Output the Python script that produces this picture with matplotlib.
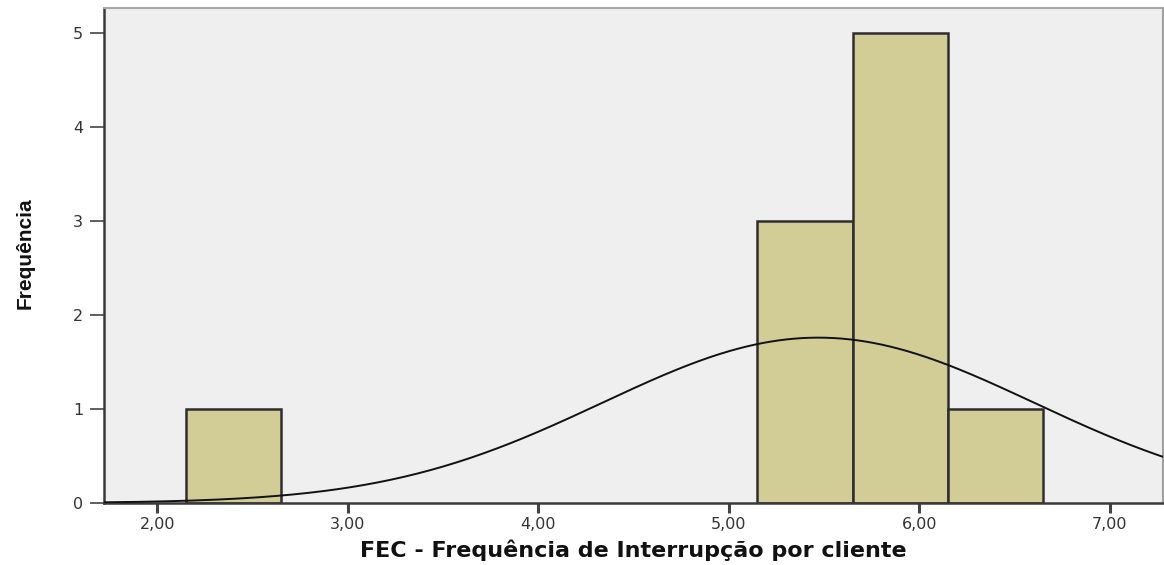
import numpy as np
import matplotlib
matplotlib.use("Agg")
import matplotlib.pyplot as plt

# histogram bins (left edges), counts and fitted normal parameters
bin_left = [2.15, 5.15, 5.65, 6.15]
bin_width = 0.5
counts = [1, 3, 5, 1]
fec_mean = 5.47
fec_std = 1.133
n_obs = sum(counts)

x_ticks = [2, 3, 4, 5, 6, 7]
x_tick_labels = ["2,00", "3,00", "4,00", "5,00", "6,00", "7,00"]
y_ticks = [0, 1, 2, 3, 4, 5]

fig = plt.figure(figsize=(11.64, 5.65), dpi=100)
ax = fig.add_axes([104 / 1164, 62 / 565, 1059 / 1164, 495 / 565])
ax.set_facecolor("#efefef")

ax.bar(bin_left, counts, width=bin_width, align="edge",
       color="#d2cd97", edgecolor="#2e2e2e", linewidth=1.8, zorder=2)

# normal curve scaled to counts
xs = np.linspace(1.72, 7.28, 400)
ys = n_obs * bin_width / (fec_std * np.sqrt(2 * np.pi)) * np.exp(-0.5 * ((xs - fec_mean) / fec_std) ** 2)
ax.plot(xs, ys, color="#111111", linewidth=1.4, zorder=3)

ax.set_xlim(1.72, 7.28)
ax.set_ylim(0, 5.27)

ax.set_xticks(x_ticks)
ax.set_xticklabels(x_tick_labels, fontsize=11.5, color="#333333", family="DejaVu Sans")
ax.set_yticks(y_ticks)
ax.set_yticklabels([str(v) for v in y_ticks], fontsize=11.5, color="#333333", family="DejaVu Sans")
ax.tick_params(axis="x", direction="out", length=7, width=2.2, color="#444444", pad=3)
ax.tick_params(axis="y", direction="out", length=10, width=1.2, color="#444444", pad=5)

for side in ["left", "bottom"]:
    ax.spines[side].set_color("#3a3a3a")
    ax.spines[side].set_linewidth(1.8)
ax.spines["top"].set_color("#a8a8a8")
ax.spines["top"].set_linewidth(1.5)
ax.spines["right"].set_color("#a0a0a0")
ax.spines["right"].set_linewidth(1.5)

fig.text(633 / 1164, 1 - 550 / 565, "FEC - Frequência de Interrupção por cliente",
         ha="center", va="center", fontsize=16, fontweight="heavy",
         family=["DejaVu Sans"], color="#111111")
fig.text(25 / 1164, 1 - 253 / 565, "Frequência", rotation=90,
         ha="center", va="center", fontsize=15, fontweight="bold",
         family=["Liberation Sans Narrow", "Liberation Sans"], color="#111111")

fig.savefig("out.png", dpi=100, facecolor="white")
